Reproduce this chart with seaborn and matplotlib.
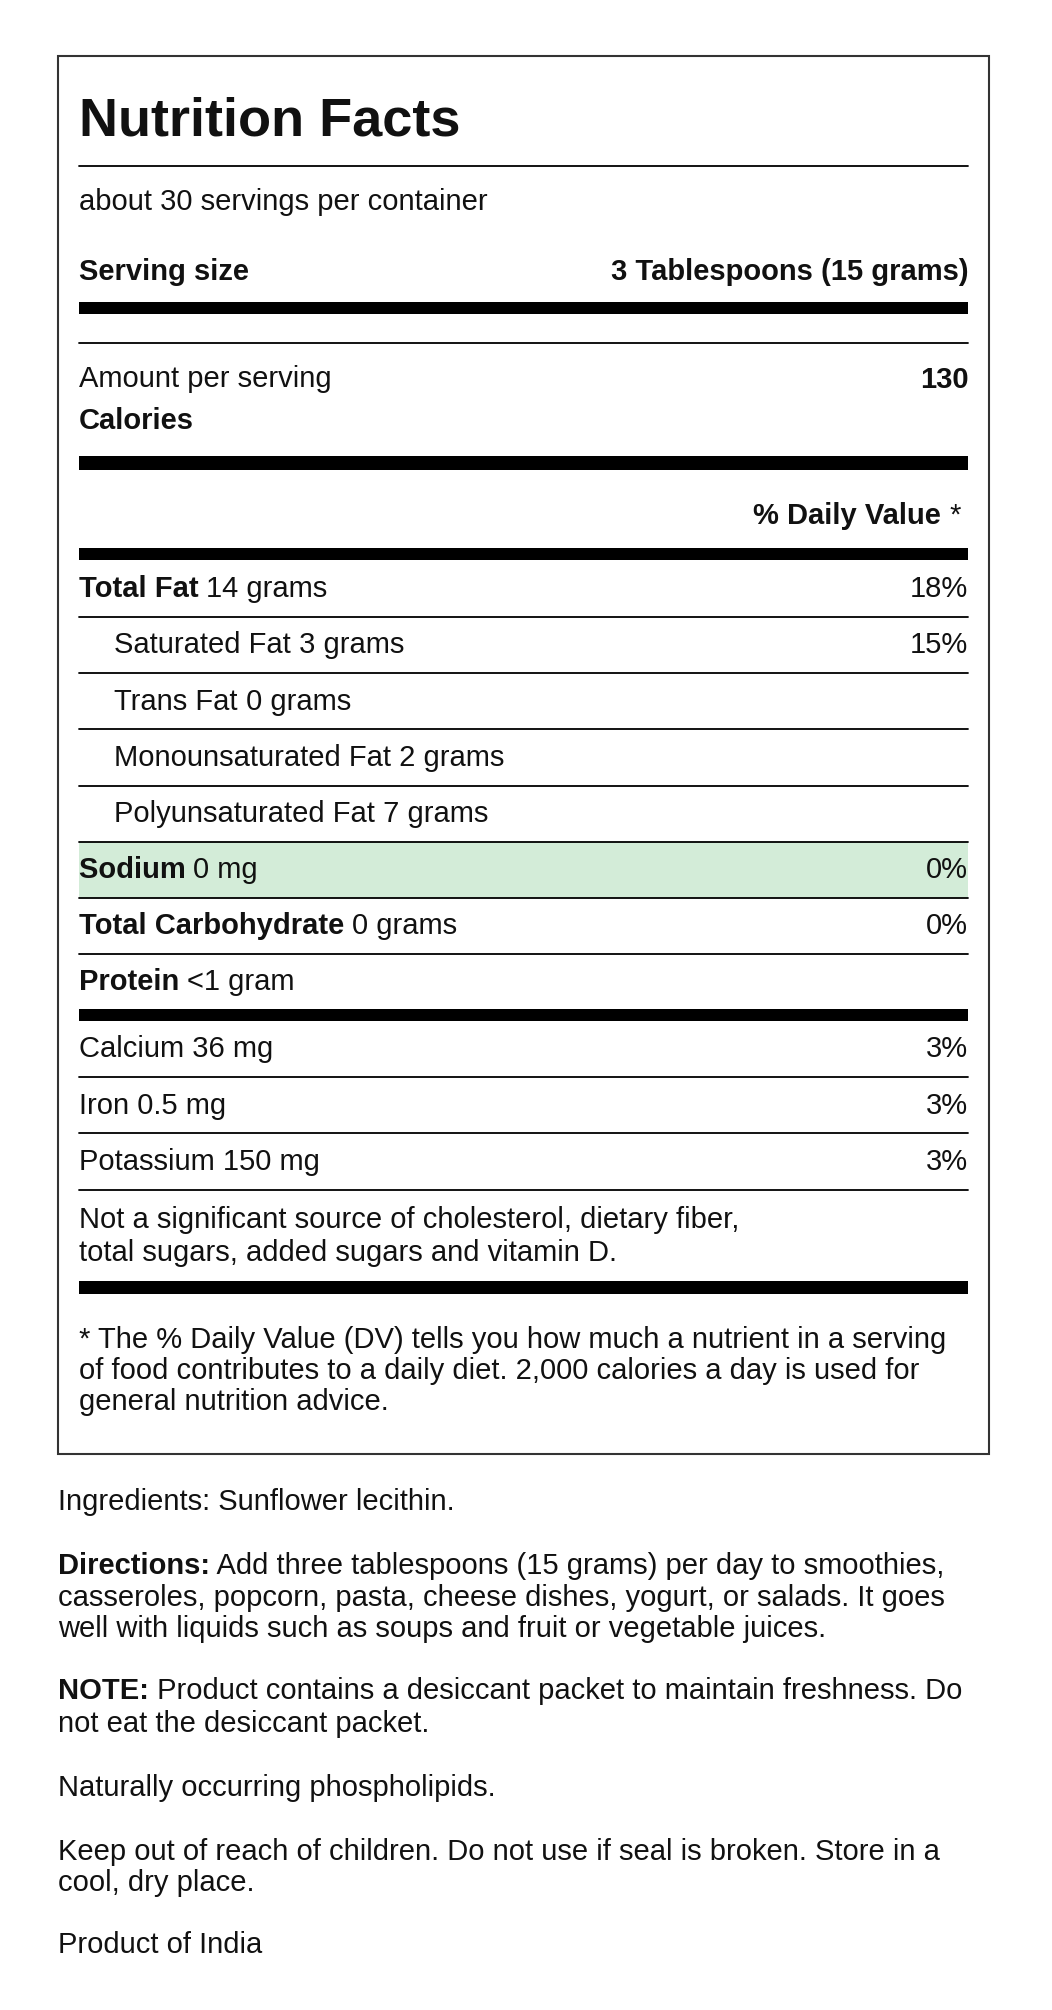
import matplotlib
matplotlib.use("Agg")
import matplotlib.pyplot as plt
from matplotlib.patches import Rectangle
import seaborn as sns

sns.set_theme(style="white")
plt.rcParams['font.family'] = ['Liberation Sans', 'DejaVu Sans']
plt.rcParams['text.color'] = '#111111'

W, H = 830, 1586
fig = plt.figure(figsize=(10.52, 20.10), dpi=100)
ax = fig.add_axes([0, 0, 1, 1])
ax.set_xlim(0, W); ax.set_ylim(H, 0); ax.axis('off')
fig.canvas.draw()
rend = fig.canvas.get_renderer()
SCALE = W / 1052.0
FS = 21
L, R = 62, 764

def txt(x, y, parts, ha='left', size=FS):
    objs = []
    total = 0
    for s, b in parts:
        t = ax.text(0, y, s, fontsize=size, fontweight='bold' if b else 'normal', va='center')
        total += t.get_window_extent(rend).width * SCALE
        objs.append(t)
    if ha == 'right':
        x = x - total
    for t in objs:
        t.set_x(x); x += t.get_window_extent(rend).width * SCALE

def thin(y, x0=L, x1=R):
    ax.plot([x0, x1], [y, y], color='black', lw=1.3)

def thick(y, h):
    ax.add_patch(Rectangle((L, y - h / 2), R - L, h, color='black', lw=0))

ax.add_patch(Rectangle((46, 44), 734, 1103, fill=False, ec='#333333', lw=1.5))

title = "Nutrition Facts"
servings = "about 30 servings per container"
serving_size = "3 Tablespoons (15 grams)"
calories = "130"

ax.text(L, 96, title, fontsize=39, fontweight='bold', va='center')
thin(131)
txt(L, 159, [(servings, False)])
txt(L, 215, [("Serving size", True)])
txt(R, 215, [(serving_size, True)], ha='right')
thick(243, 10)
thin(271)
txt(L, 299, [("Amount per serving", False)])
txt(R, 300, [(calories, True)], ha='right')
txt(L, 332, [("Calories", True)])
thick(365, 11)
txt(R - 6, 407, [("% Daily Value ", True), ("*", False)], ha='right')
thick(437, 9)

nutrients = ["Total Fat", "Saturated Fat", "Trans Fat", "Monounsaturated Fat",
             "Polyunsaturated Fat", "Sodium", "Total Carbohydrate", "Protein"]
amounts = ["14 grams", "3 grams", "0 grams", "2 grams", "7 grams",
           "0 mg", "0 grams", "<1 gram"]
bold_name = [True, False, False, False, False, True, True, True]
indent = [False, True, True, True, True, False, False, False]
dv = ["18%", "15%", "", "", "", "0%", "0%", ""]
highlight = [False, False, False, False, False, True, False, False]

y = 465
for n, a, b, ind, d, hl in zip(nutrients, amounts, bold_name, indent, dv, highlight):
    if hl:
        ax.add_patch(Rectangle((L, y - 22), R - L, 44, color='#d3ecd8', lw=0, zorder=0))
    txt(90 if ind else L, y, [(n + (" " if b else ""), b), (("" if b else " ") + a, False)])
    if d:
        txt(R, y, [(d, False)], ha='right')
    if n != "Protein":
        thin(y + 22)
    y += 44.3

thick(801, 9)
minerals = ["Calcium 36 mg", "Iron 0.5 mg", "Potassium 150 mg"]
mineral_dv = ["3%", "3%", "3%"]
for i, (m, d) in enumerate(zip(minerals, mineral_dv)):
    yy = 828 + i * 44.3
    txt(L, yy, [(m, False)])
    txt(R, yy, [(d, False)], ha='right')
    thin(yy + 22)
txt(L, 963, [("Not a significant source of cholesterol, dietary fiber,", False)])
txt(L, 989, [("total sugars, added sugars and vitamin D.", False)])
thick(1016, 10)
foot = ["* The % Daily Value (DV) tells you how much a nutrient in a serving",
        "of food contributes to a daily diet. 2,000 calories a day is used for",
        "general nutrition advice."]
for i, f in enumerate(foot):
    txt(L, 1057 + i * 24.5, [(f, False)])

X2 = 46
txt(X2, 1185, [("Ingredients: Sunflower lecithin.", False)])
txt(X2, 1236, [("Directions:", True), (" Add three tablespoons (15 grams) per day to smoothies,", False)])
txt(X2, 1261, [("casseroles, popcorn, pasta, cheese dishes, yogurt, or salads. It goes", False)])
txt(X2, 1285, [("well with liquids such as soups and fruit or vegetable juices.", False)])
txt(X2, 1334, [("NOTE:", True), (" Product contains a desiccant packet to maintain freshness. Do", False)])
txt(X2, 1360, [("not eat the desiccant packet.", False)])
txt(X2, 1411, [("Naturally occurring phospholipids.", False)])
txt(X2, 1461, [("Keep out of reach of children. Do not use if seal is broken. Store in a", False)])
txt(X2, 1486, [("cool, dry place.", False)])
txt(X2, 1535, [("Product of India", False)])

fig.savefig("out.png", dpi=100, facecolor='white')
